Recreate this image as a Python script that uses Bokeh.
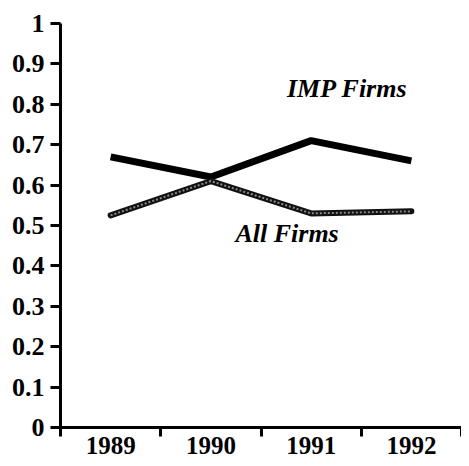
from bokeh.plotting import figure
from bokeh.models import Range1d, FixedTicker, LinearAxis, Label
from bokeh.embed import file_html
from bokeh.resources import INLINE

years = ["1989", "1990", "1991", "1992"]
imp_firms = [0.67, 0.62, 0.71, 0.66]
all_firms = [0.525, 0.61, 0.53, 0.535]
y_ticks = [0, 0.1, 0.2, 0.3, 0.4, 0.5, 0.6, 0.7, 0.8, 0.9, 1.0]
y_tick_labels = ["0", "0.1", "0.2", "0.3", "0.4", "0.5", "0.6", "0.7", "0.8", "0.9", "1"]

xs = [i + 0.5 for i in range(len(years))]
FONT = "Liberation Serif"

p = figure(width=461, height=458, output_backend="svg", toolbar_location=None,
           x_range=Range1d(0, len(years)), y_range=Range1d(0, 1.0),
           x_axis_type=None, y_axis_type=None,
           min_border_left=60, min_border_right=0, min_border_top=23, min_border_bottom=31)
p.outline_line_color = None
p.grid.visible = False
p.background_fill_color = "white"
p.border_fill_color = "white"

yax = LinearAxis(ticker=FixedTicker(ticks=y_ticks))
yax.major_label_overrides = {t: l for t, l in zip(y_ticks, y_tick_labels)}
yax.axis_line_width = 3
yax.axis_line_color = "black"
yax.major_tick_line_width = 3
yax.major_tick_out = 10
yax.major_tick_in = 0
yax.minor_tick_line_color = None
yax.major_label_standoff = 6
yax.major_label_text_font = FONT
yax.major_label_text_font_style = "bold"
yax.major_label_text_font_size = "26px"
yax.major_label_text_color = "black"
p.add_layout(yax, "left")

xax = LinearAxis(ticker=FixedTicker(ticks=xs, minor_ticks=list(range(len(years) + 1))))
xax.major_label_overrides = {x: y for x, y in zip(xs, years)}
xax.axis_line_width = 3
xax.axis_line_color = "black"
xax.major_tick_line_color = None
xax.minor_tick_line_width = 3
xax.minor_tick_line_color = "black"
xax.minor_tick_out = 9
xax.minor_tick_in = 0
xax.major_label_standoff = 0
xax.major_label_text_font = FONT
xax.major_label_text_font_style = "bold"
xax.major_label_text_font_size = "25px"
xax.major_label_text_color = "black"
p.add_layout(xax, "below")

# IMP Firms: thick black line
p.line(xs, imp_firms, line_width=7, line_color="black")
# All Firms: beaded line
p.line(xs, all_firms, line_width=6, line_color="#111111", line_join="round", line_cap="round")
p.line(xs, all_firms, line_width=2, line_color="#8a8a8a", line_dash="2 2", line_join="round")

p.add_layout(Label(x=2.86, y=0.84, text="IMP Firms", text_font=FONT, text_font_style="bold italic",
                   text_font_size="26px", text_align="center", text_baseline="middle", text_color="black"))
p.add_layout(Label(x=2.26, y=0.48, text="All Firms", text_font=FONT, text_font_style="bold italic",
                   text_font_size="26px", text_align="center", text_baseline="middle", text_color="black"))

open("out.html", "w").write(file_html(p, INLINE))
